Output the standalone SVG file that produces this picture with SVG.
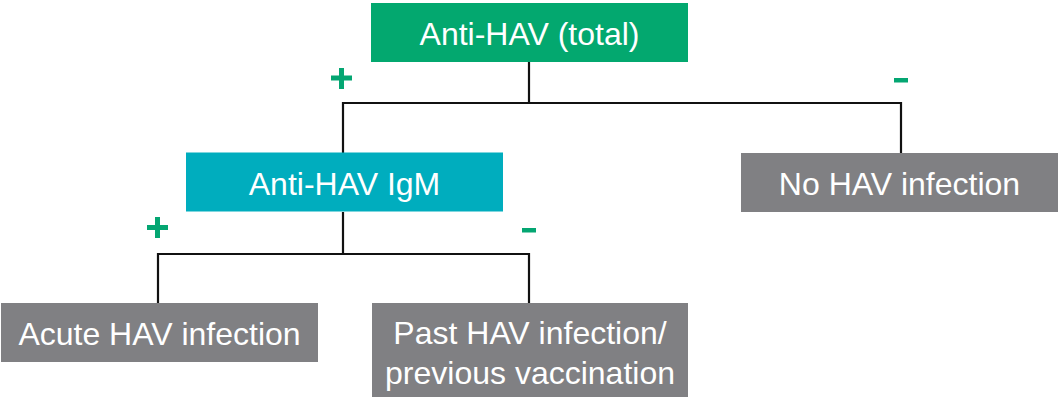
<svg xmlns="http://www.w3.org/2000/svg" width="1059" height="400" viewBox="0 0 1059 400">
<style>
.lbl{font-family:"Liberation Sans",Arial,sans-serif;font-size:32px;fill:#ffffff;text-anchor:middle}
.conn{stroke:#111111;stroke-width:2.2;fill:none}
.sign{fill:#04A672}
.green{fill:#03A86F}
.teal{fill:#00ADBE}
.gray{fill:#808083}
</style>
<rect width="1059" height="400" fill="#ffffff"/>
<g id="connectors">
<path class="conn" d="M529 62 V103 M343 103 H901 M343 102 V153 M901 102 V153"/>
<path class="conn" d="M343 212 V254 M158 254 H529 M158 253 V303 M529 253 V303"/>
</g>
<g id="signs">
<rect class="sign" x="331" y="75.5" width="21" height="5"/>
<rect class="sign" x="339" y="68" width="5" height="21"/>
<rect class="sign" x="894" y="78" width="14" height="4.5"/>
<rect class="sign" x="147" y="225" width="21" height="5"/>
<rect class="sign" x="155" y="217" width="5" height="21"/>
<rect class="sign" x="522" y="228" width="14" height="4.5"/>
</g>
<g id="anti-hav-total">
<rect class="green" x="371" y="3" width="317" height="59"/>
<text class="lbl" x="529.5" y="45">Anti-HAV (total)</text>
</g>
<g id="anti-hav-igm">
<rect class="teal" x="186" y="152.5" width="317" height="59"/>
<text class="lbl" x="344.5" y="195">Anti-HAV IgM</text>
</g>
<g id="no-hav-infection">
<rect class="gray" x="741" y="153" width="317" height="59"/>
<text class="lbl" x="899.5" y="195">No HAV infection</text>
</g>
<g id="acute-hav-infection">
<rect class="gray" x="1" y="303" width="317" height="59"/>
<text class="lbl" x="159.5" y="344.5">Acute HAV infection</text>
</g>
<g id="past-hav-infection">
<rect class="gray" x="372" y="303" width="316" height="94"/>
<text class="lbl" x="530" y="344">Past HAV infection/</text>
<text class="lbl" x="530" y="383.5">previous vaccination</text>
</g>
</svg>
